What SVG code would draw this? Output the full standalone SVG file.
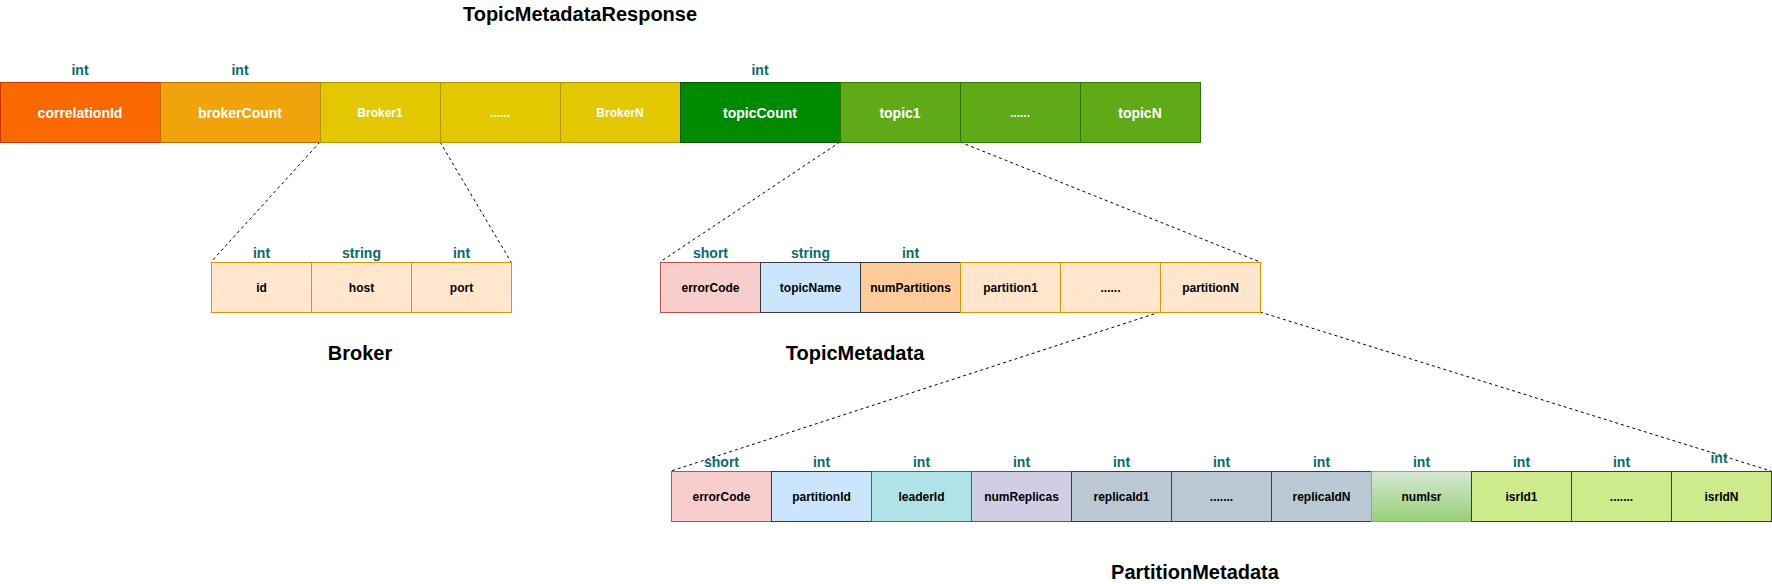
<svg xmlns="http://www.w3.org/2000/svg" width="1772" height="584" viewBox="0 0 1772 584">
<style>
text{font-family:"Liberation Sans",Arial,Helvetica,sans-serif;font-weight:bold;text-anchor:middle;dominant-baseline:central}
.w{fill:#ffffff;font-size:14px}
.ws{fill:#ffffff;font-size:12px}
.b{fill:#000000;font-size:12px}
.t{fill:#0a6b6b;font-size:14px}
.h{fill:#000000;font-size:20px}
.dash{fill:none;stroke:#000;stroke-width:1;stroke-dasharray:3 3}
rect{stroke-width:1}
</style>
<defs>
<linearGradient id="gIsr" x1="0" y1="0" x2="0" y2="1">
<stop offset="0" stop-color="#d5e8d4"/>
<stop offset="1" stop-color="#97d077"/>
</linearGradient>
</defs>
<rect x="0" y="0" width="1772" height="584" fill="#ffffff"/>
<g id="connectors">
<line class="dash" x1="320" y1="142" x2="211" y2="262"/>
<line class="dash" x1="440" y1="142" x2="511" y2="262"/>
<line class="dash" x1="840" y1="142" x2="660" y2="262"/>
<line class="dash" x1="960" y1="142" x2="1260" y2="262"/>
<line class="dash" x1="1160" y1="312" x2="671" y2="471"/>
<line class="dash" x1="1260" y1="312" x2="1771" y2="471"/>
</g>
<g id="title-response"><text class="h" x="580" y="14">TopicMetadataResponse</text></g>
<g id="correlationId">
<rect x="0.5" y="82.5" width="160" height="60" fill="#fa6800" stroke="#c73500"/>
<text class="w" x="80" y="112.5">correlationId</text>
<text class="t" x="80" y="70">int</text>
</g>
<g id="brokerCount">
<rect x="160.5" y="82.5" width="160" height="60" fill="#f0a30a" stroke="#bd7000"/>
<text class="w" x="240" y="112.5">brokerCount</text>
<text class="t" x="240" y="70">int</text>
</g>
<g id="broker1">
<rect x="320.5" y="82.5" width="120" height="60" fill="#e3c800" stroke="#b09500"/>
<text class="ws" x="380" y="112.5">Broker1</text>
</g>
<g id="brokerDots">
<rect x="440.5" y="82.5" width="120" height="60" fill="#e3c800" stroke="#b09500"/>
<text class="ws" x="500" y="112.5">......</text>
</g>
<g id="brokerN">
<rect x="560.5" y="82.5" width="120" height="60" fill="#e3c800" stroke="#b09500"/>
<text class="ws" x="620" y="112.5">BrokerN</text>
</g>
<g id="topicCount">
<rect x="680.5" y="82.5" width="160" height="60" fill="#008a00" stroke="#005700"/>
<text class="w" x="760" y="112.5">topicCount</text>
<text class="t" x="760" y="70">int</text>
</g>
<g id="topic1">
<rect x="840.5" y="82.5" width="120" height="60" fill="#60a917" stroke="#2d7600"/>
<text class="w" x="900" y="112.5">topic1</text>
</g>
<g id="topicDots">
<rect x="960.5" y="82.5" width="120" height="60" fill="#60a917" stroke="#2d7600"/>
<text class="ws" x="1020" y="112.5">......</text>
</g>
<g id="topicN">
<rect x="1080.5" y="82.5" width="120" height="60" fill="#60a917" stroke="#2d7600"/>
<text class="w" x="1140" y="112.5">topicN</text>
</g>

<g id="broker-id">
<rect x="211.5" y="262.5" width="100" height="50" fill="#ffe6cc" stroke="#d79b00"/>
<text class="b" x="261.5" y="287.5">id</text>
<text class="t" x="261.5" y="253">int</text>
</g>
<g id="broker-host">
<rect x="311.5" y="262.5" width="100" height="50" fill="#ffe6cc" stroke="#d79b00"/>
<text class="b" x="361.5" y="287.5">host</text>
<text class="t" x="361.5" y="253">string</text>
</g>
<g id="broker-port">
<rect x="411.5" y="262.5" width="100" height="50" fill="#ffe6cc" stroke="#d79b00"/>
<text class="b" x="461.5" y="287.5">port</text>
<text class="t" x="461.5" y="253">int</text>
</g>
<g id="title-broker"><text class="h" x="360" y="353">Broker</text></g>

<g id="tm-errorCode">
<rect x="660.5" y="262.5" width="100" height="50" fill="#f8cecc" stroke="#b85450"/>
<text class="b" x="710.5" y="287.5">errorCode</text>
<text class="t" x="710.5" y="253">short</text>
</g>
<g id="tm-topicName">
<rect x="760.5" y="262.5" width="100" height="50" fill="#cce5ff" stroke="#36393d"/>
<text class="b" x="810.5" y="287.5">topicName</text>
<text class="t" x="810.5" y="253">string</text>
</g>
<g id="tm-numPartitions">
<rect x="860.5" y="262.5" width="100" height="50" fill="#ffcc99" stroke="#36393d"/>
<text class="b" x="910.5" y="287.5">numPartitions</text>
<text class="t" x="910.5" y="253">int</text>
</g>
<g id="tm-partition1">
<rect x="960.5" y="262.5" width="100" height="50" fill="#ffe6cc" stroke="#d79b00"/>
<text class="b" x="1010.5" y="287.5">partition1</text>
</g>
<g id="tm-dots">
<rect x="1060.5" y="262.5" width="100" height="50" fill="#ffe6cc" stroke="#d79b00"/>
<text class="b" x="1110.5" y="287.5">......</text>
</g>
<g id="tm-partitionN">
<rect x="1160.5" y="262.5" width="100" height="50" fill="#ffe6cc" stroke="#d79b00"/>
<text class="b" x="1210.5" y="287.5">partitionN</text>
</g>
<g id="title-topic"><text class="h" x="855" y="353">TopicMetadata</text></g>

<g id="pm-errorCode">
<rect x="671.5" y="471.5" width="100" height="50" fill="#f8cecc" stroke="#b85450"/>
<text class="b" x="721.5" y="496.5">errorCode</text>
<text class="t" x="721.5" y="462">short</text>
</g>
<g id="pm-partitionId">
<rect x="771.5" y="471.5" width="100" height="50" fill="#cce5ff" stroke="#36393d"/>
<text class="b" x="821.5" y="496.5">partitionId</text>
<text class="t" x="821.5" y="462">int</text>
</g>
<g id="pm-leaderId">
<rect x="871.5" y="471.5" width="100" height="50" fill="#b0e3e6" stroke="#0e8088"/>
<text class="b" x="921.5" y="496.5">leaderId</text>
<text class="t" x="921.5" y="462">int</text>
</g>
<g id="pm-numReplicas">
<rect x="971.5" y="471.5" width="100" height="50" fill="#d0cee2" stroke="#56517e"/>
<text class="b" x="1021.5" y="496.5">numReplicas</text>
<text class="t" x="1021.5" y="462">int</text>
</g>
<g id="pm-replicaId1">
<rect x="1071.5" y="471.5" width="100" height="50" fill="#bac8d3" stroke="#23445d"/>
<text class="b" x="1121.5" y="496.5">replicaId1</text>
<text class="t" x="1121.5" y="462">int</text>
</g>
<g id="pm-replicaDots">
<rect x="1171.5" y="471.5" width="100" height="50" fill="#bac8d3" stroke="#23445d"/>
<text class="b" x="1221.5" y="496.5">.......</text>
<text class="t" x="1221.5" y="462">int</text>
</g>
<g id="pm-replicaIdN">
<rect x="1271.5" y="471.5" width="100" height="50" fill="#bac8d3" stroke="#23445d"/>
<text class="b" x="1321.5" y="496.5">replicaIdN</text>
<text class="t" x="1321.5" y="462">int</text>
</g>
<g id="pm-numIsr">
<rect x="1371.5" y="471.5" width="100" height="50" fill="url(#gIsr)" stroke="#82b366"/>
<text class="b" x="1421.5" y="496.5">numIsr</text>
<text class="t" x="1421.5" y="462">int</text>
</g>
<g id="pm-isrId1">
<rect x="1471.5" y="471.5" width="100" height="50" fill="#cdeb8b" stroke="#36393d"/>
<text class="b" x="1521.5" y="496.5">isrId1</text>
<text class="t" x="1521.5" y="462">int</text>
</g>
<g id="pm-isrDots">
<rect x="1571.5" y="471.5" width="100" height="50" fill="#cdeb8b" stroke="#36393d"/>
<text class="b" x="1621.5" y="496.5">.......</text>
<text class="t" x="1621.5" y="462">int</text>
</g>
<g id="pm-isrIdN">
<rect x="1671.5" y="471.5" width="100" height="50" fill="#cdeb8b" stroke="#36393d"/>
<text class="b" x="1721.5" y="496.5">isrIdN</text>
<text class="t" x="1719" y="458">int</text>
</g>
<g id="title-partition"><text class="h" x="1195" y="572">PartitionMetadata</text></g>
</svg>
